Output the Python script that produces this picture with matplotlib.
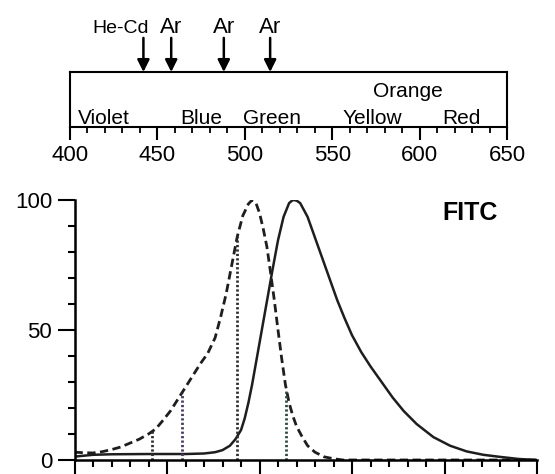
import numpy as np
import matplotlib.pyplot as plt
from matplotlib.ticker import MultipleLocator

plt.rcParams['font.family'] = ['Liberation Sans', 'DejaVu Sans']

# FITC excitation (dashed) and emission (solid), % of max
ex_nm = [400, 405, 410, 415, 420, 425, 430, 435, 440, 444, 448, 452, 456, 460, 464,
         468, 472, 476, 479, 482, 485, 488, 491, 494, 496, 498, 500, 502, 504, 506,
         508, 510, 512, 514, 516, 518, 520, 523, 526, 530, 535, 540, 545, 650]
ex_val = [3, 2.8, 2.7, 3.2, 4, 5, 6.5, 8, 10, 12, 15.4, 19, 23.5, 28, 32.5,
          37, 41, 47, 55, 64, 75, 86, 94, 98.5, 100, 99, 95, 89, 82, 72,
          61.5, 50, 39, 29, 22, 17, 13, 9, 5.5, 3, 1.2, 0.5, 0, 0]

em_nm = [400, 410, 420, 440, 460, 470, 476, 480, 484, 487, 490, 492, 494, 496, 498,
         501, 504, 507, 510, 513, 516, 518, 520, 522, 526, 530, 534, 538, 542, 546,
         550, 555, 560, 566, 572, 578, 585, 594, 603, 612, 621, 630, 640, 650]
em_val = [1.3, 2, 2.2, 2.3, 2.3, 2.5, 3, 3.8, 5.5, 8, 11.5, 16, 22, 29, 37,
          49, 61, 73, 84.5, 93.5, 98.8, 100, 99.8, 98.8, 93.5, 85.5, 77.5, 69.5, 61.5, 54.5,
          48, 41.5, 36, 30, 24, 18.8, 13.8, 8.8, 5.5, 3.3, 2, 1.2, 0.4, 0]

# laser lines
laser_nm = [442, 457.9, 488, 514.5]
laser_names = ['He-Cd', 'Ar', 'Ar', 'Ar']
line_colors = ['#2e2e2e', '#4a3a60', '#2e2e2e', '#2f4a44']

# colour bands in the wavelength bar
band_names = ['Violet', 'Blue', 'Green', 'Yellow', 'Orange', 'Red']
band_nm = [419.5, 475, 515.6, 572.8, 593.4, 624]
band_row = [0, 0, 0, 0, 1, 0]

W, H = 555, 474
fig = plt.figure(figsize=(W / 100, H / 100), dpi=100)

# wavelength bar on top
ax_top = fig.add_axes([70 / W, 1 - 127 / H, 437 / W, 55 / H])
ax_top.set_xlim(400, 650)
ax_top.set_ylim(0, 1)
ax_top.set_yticks([])
ax_top.xaxis.set_major_locator(MultipleLocator(50))
ax_top.xaxis.set_minor_locator(MultipleLocator(10))
ax_top.tick_params(axis='x', which='major', direction='out', length=9, width=1.5,
                   labelsize=16, pad=4)
ax_top.tick_params(axis='x', which='minor', direction='out', length=4.5, width=1.3)
for sp in ax_top.spines.values():
    sp.set_linewidth(1.5)

for name, w, row in zip(band_names, band_nm, band_row):
    y = 0.055 if row == 0 else 0.545
    ax_top.text(w, y, name, ha='center', va='baseline', fontsize=15)

for name, w in zip(laser_names, laser_nm):
    ax_top.annotate('', xy=(w, 1.0), xytext=(w, 1.62), annotation_clip=False,
                    arrowprops=dict(arrowstyle='-|>', color='black', lw=1.8,
                                    mutation_scale=18, shrinkA=0, shrinkB=0))
    if name == 'He-Cd':
        ax_top.text(w + 3, 1.71, name, ha='right', va='baseline', fontsize=14,
                    clip_on=False)
    else:
        ax_top.text(w, 1.71, name, ha='center', va='baseline', fontsize=16,
                    clip_on=False)

# spectra
ax = fig.add_axes([74.5 / W, 1 - 460 / H, (537 - 74.5) / W, 260 / H])
ax.set_xlim(400, 650)
ax.set_ylim(0, 100)
ax.plot(ex_nm, ex_val, color='#1e1e1e', lw=2.0, linestyle=(0, (3, 1.6)))
ax.plot(em_nm, em_val, color='#1e1e1e', lw=1.8)

line_tops = np.interp(laser_nm, ex_nm, ex_val)
for w, h, c in zip(laser_nm, line_tops, line_colors):
    ax.plot([w, w], [0, h], color=c, lw=2.0, linestyle=(0, (0.8, 0.8)))

ax.text(614, 95, 'FITC', ha='center', va='center', fontsize=18, fontweight='bold')

ax.spines['top'].set_visible(False)
ax.spines['right'].set_visible(False)
ax.spines['left'].set_linewidth(1.8)
ax.spines['bottom'].set_linewidth(1.8)
ax.set_yticks([0, 50, 100])
ax.yaxis.set_minor_locator(MultipleLocator(10))
ax.xaxis.set_major_locator(MultipleLocator(50))
ax.xaxis.set_minor_locator(MultipleLocator(10))
ax.set_xticklabels([])
ax.tick_params(axis='y', which='major', length=12, width=1.5, labelsize=16, pad=4)
ax.tick_params(axis='y', which='minor', length=5, width=1.5)
ax.tick_params(axis='x', which='major', length=10, width=1.5)
ax.tick_params(axis='x', which='minor', length=5, width=1.5)

fig.savefig('out.png', dpi=100)
